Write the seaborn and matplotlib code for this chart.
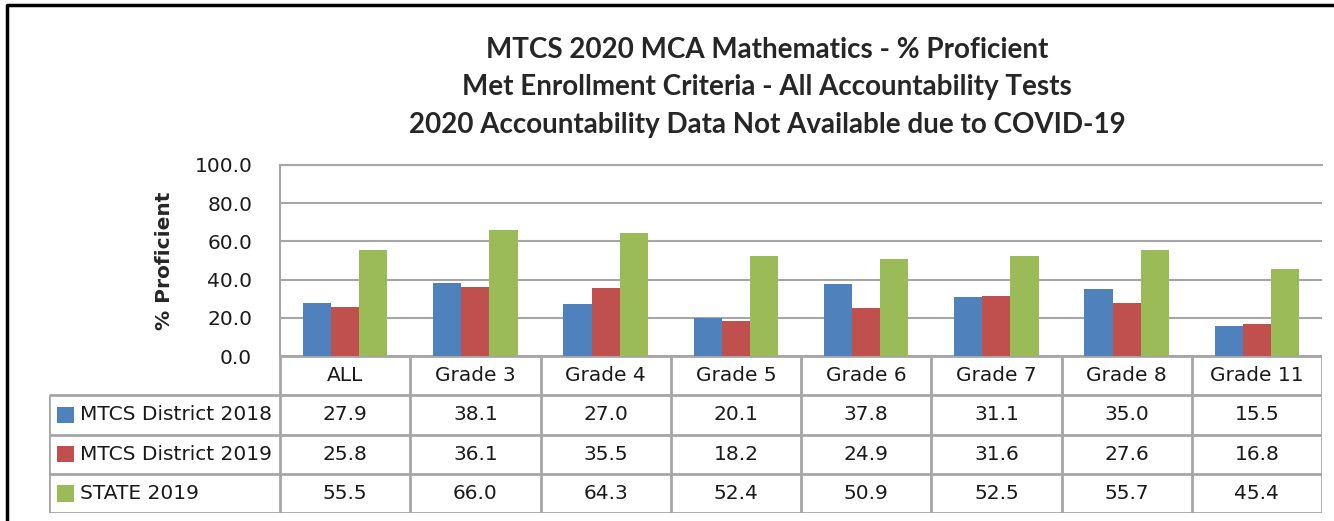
import pandas as pd
import seaborn as sns
import matplotlib.pyplot as plt
from matplotlib.ticker import FormatStrFormatter

sns.set_style("white")

categories = ["ALL", "Grade 3", "Grade 4", "Grade 5", "Grade 6", "Grade 7", "Grade 8", "Grade 11"]
series = ["MTCS District 2018", "MTCS District 2019", "STATE 2019"]
district_2018 = [27.9, 38.1, 27.0, 20.1, 37.8, 31.1, 35.0, 15.5]
district_2019 = [25.8, 36.1, 35.5, 18.2, 24.9, 31.6, 27.6, 16.8]
state_2019 = [55.5, 66.0, 64.3, 52.4, 50.9, 52.5, 55.7, 45.4]
colors = ["#4F81BD", "#C0504D", "#9BBB59"]
title_lines = ["MTCS 2020 MCA Mathematics - % Proficient",
               "Met Enrollment Criteria - All Accountability Tests",
               "2020 Accountability Data Not Available due to COVID-19"]

values = [district_2018, district_2019, state_2019]
df = pd.DataFrame({
    "grade": categories * 3,
    "series": [s for s in series for _ in categories],
    "value": district_2018 + district_2019 + state_2019,
})

W, H = 1334, 521
fig = plt.figure(figsize=(W / 100, H / 100), dpi=100)

# pixel layout of the excel chart
x0, x1 = 280, 1322      # plot area left/right
ytop, ybot = 165, 356   # plot area top / zero line
tx0, tbot = 49, 513     # table left / bottom
grid_col = "#A6A6A6"

ax = fig.add_axes([x0 / W, 1 - ybot / H, (x1 - x0) / W, (ybot - ytop) / H])
sns.barplot(data=df, x="grade", y="value", hue="series", palette=colors,
            width=0.65, gap=0, saturation=1, linewidth=0, ax=ax, legend=False)
ax.set_xlim(-0.5, len(categories) - 0.5)
ax.set_ylim(0, 100)
ax.set_yticks([0, 20, 40, 60, 80, 100])
ax.yaxis.set_major_formatter(FormatStrFormatter("%.1f"))
ax.tick_params(axis="y", labelsize=14.5, length=0, pad=20, labelcolor="#1a1a1a")
ax.set_xticks([])
ax.set_xlabel("")
ax.set_ylabel("% Proficient", fontsize=14.5, fontweight="bold", labelpad=15)
ax.grid(axis="y", color=grid_col, lw=1.5)
ax.set_axisbelow(True)
for side in ["left", "top"]:
    ax.spines[side].set_color(grid_col)
    ax.spines[side].set_linewidth(1.5)
ax.spines["right"].set_visible(False)
ax.spines["bottom"].set_visible(False)

# data table under the plot
colw = (x1 - x0) / len(categories)
tab = fig.add_axes([tx0 / W, 1 - tbot / H, (x1 - tx0) / W, (tbot - ybot) / H])
xmin = -0.5 - (x0 - tx0) / colw
xmax = len(categories) - 0.5
tab.set_xlim(xmin, xmax)
tab.set_ylim(0, 4)
tab.axis("off")

lk = dict(color=grid_col, lw=2, solid_capstyle="butt")
tab.plot([-0.5, xmax], [4, 4], **lk)
for yy in [3, 2, 1, 0]:
    tab.plot([xmin, xmax], [yy, yy], **lk)
for i in range(len(categories) + 1):
    tab.plot([i - 0.5, i - 0.5], [0, 4], **lk)
tab.plot([xmin, xmin], [0, 3], **lk)

for i, c in enumerate(categories):
    tab.text(i, 3.5, c, ha="center", va="center", fontsize=14.5, color="#1a1a1a")
for r, (name, vals, col) in enumerate(zip(series, values, colors)):
    yc = 2.5 - r
    tab.scatter([xmin + 16.5 / colw], [yc], marker="s", s=140, color=col,
                edgecolors="none", clip_on=False)
    tab.text(xmin + 31 / colw, yc, name, ha="left", va="center", fontsize=14.5,
             color="#1a1a1a")
    for i, v in enumerate(vals):
        tab.text(i, yc, f"{v:.1f}", ha="center", va="center", fontsize=14.5,
                 color="#1a1a1a")

# title
for k, line in enumerate(title_lines):
    fig.text(767 / W, 1 - (50 + 37.5 * k) / H, line, ha="center", va="center",
             fontsize=20, fontweight="bold", family="Lato")

# outer frame (top and left edges visible)
fig.add_artist(plt.Line2D([7 / W, 7 / W, 1], [0, 1 - 5 / H, 1 - 5 / H],
                          color="black", lw=2.5, transform=fig.transFigure))

fig.savefig("out.png", dpi=100)
